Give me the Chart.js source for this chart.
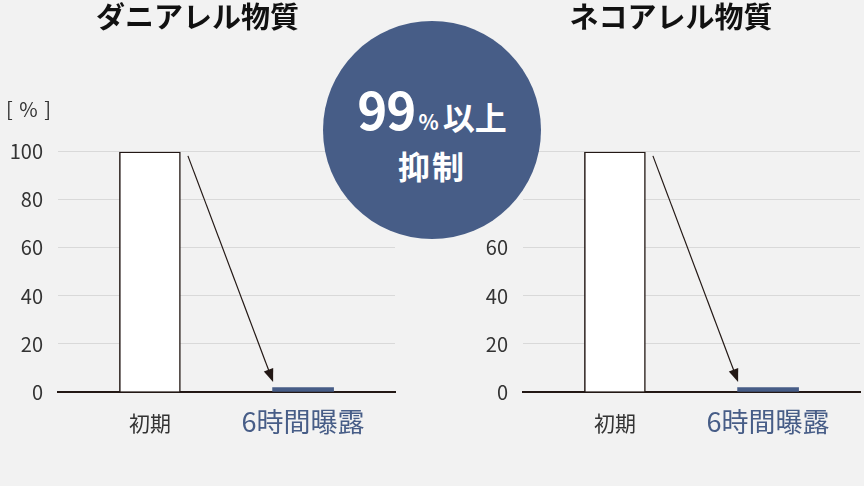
<!DOCTYPE html>
<html lang="ja">
<head>
<meta charset="utf-8">
<script src="https://cdn.jsdelivr.net/npm/chart.js@4.4.1/dist/chart.umd.min.js"></script>
<style>
  html, body { margin:0; padding:0; background:#f2f2f2; }
  body { width:864px; height:486px; position:relative; overflow:hidden; font-family:"Noto Sans CJK JP", "Noto Sans", sans-serif; }
  .box { position:absolute; top:0; height:486px; }
  #unit { position:absolute; left:6px; top:94px; font-size:20px; color:#333; word-spacing:2px; }
  #badge { position:absolute; left:323px; top:21px; width:218px; height:218px; border-radius:50%; background:#475d87; color:#fff; z-index:2; text-align:center; font-weight:bold; }
  #badge .l1 { position:absolute; left:0; right:0; top:62px; line-height:1; white-space:nowrap; }
  #badge .big { font-size:51px; letter-spacing:-1px; }
  #badge .pct { font-size:21px; margin:0 4px 0 3px; }
  #badge .mid { font-size:32px; }
  #badge .l2 { position:absolute; left:0; right:0; top:128px; font-size:32px; line-height:1; letter-spacing:2px; }
</style>
</head>
<body>
<div class="box" style="left:0;width:400px;"><canvas id="miteChart"></canvas></div>
<div class="box" style="left:482px;width:382px;"><canvas id="catChart"></canvas></div>
<div id="unit">[ % ]</div>
<div id="badge">
  <div class="l1"><span class="big">99</span><span class="pct">%</span><span class="mid">以上</span></div>
  <div class="l2">抑制</div>
</div>
<script>
// ----- data -----
const categories = ["初期", "6時間曝露"];
const miteValues = [100, 1.8];
const catValues = [100, 1.8];
const yTicks = [0, 20, 40, 60, 80, 100];

const NAVY = "#475d87";
const FONT = "'Noto Sans CJK JP', 'Noto Sans', sans-serif";

// arrow from top of first bar down to the second one
const arrowPlugin = {
  id: "dropArrow",
  afterDatasetsDraw(chart){
    const x = chart.scales.x, y = chart.scales.y;
    const x0 = x.getPixelForValue(0) + 38, y0 = y.getPixelForValue(98.3);
    const x1 = x.getPixelForValue(1) - 30, y1 = y.getPixelForValue(4.2);
    const ctx = chart.ctx;
    const ang = Math.atan2(y1 - y0, x1 - x0);
    const head = 13, half = 5;
    ctx.save();
    ctx.strokeStyle = "#231815";
    ctx.fillStyle = "#231815";
    ctx.lineWidth = 1.2;
    ctx.beginPath();
    ctx.moveTo(x0, y0);
    ctx.lineTo(x1 - Math.cos(ang)*head*0.8, y1 - Math.sin(ang)*head*0.8);
    ctx.stroke();
    ctx.beginPath();
    ctx.moveTo(x1, y1);
    ctx.lineTo(x1 - Math.cos(ang)*head - Math.sin(ang)*half, y1 - Math.sin(ang)*head + Math.cos(ang)*half);
    ctx.lineTo(x1 - Math.cos(ang)*head + Math.sin(ang)*half, y1 - Math.sin(ang)*head - Math.cos(ang)*half);
    ctx.closePath();
    ctx.fill();
    ctx.restore();
  }
};

function makeChart(id, title, values, axisWidth, padRight){
  return new Chart(document.getElementById(id), {
    type: "bar",
    data: {
      datasets: [{
        data: values.map((v, i) => ({ x: i, y: v })),
        backgroundColor: ["#ffffff", NAVY],
        borderColor: ["#231815", NAVY],
        borderWidth: [1.5, 0],
        barThickness: 61
      }]
    },
    options: {
      responsive: true,
      maintainAspectRatio: false,
      animation: false,
      layout: { padding: { left:0, right:padRight, top:0, bottom:0 } },
      plugins: {
        legend: { display:false },
        tooltip: { enabled:false },
        title: {
          display: true, text: title, color: "#111",
          font: { family: FONT, size: 29, weight: "bold" },
          padding: { top: 0, bottom: 117 }
        }
      },
      scales: {
        x: {
          type: "linear", min: -0.6, max: 1.6, offset: false,
          afterBuildTicks: s => { s.ticks = categories.map((c, i) => ({ value: i })); },
          afterFit: s => { s.height = 94; },
          grid: { display:false, drawTicks:false },
          border: { display:true, color:"#231815", width:2 },
          ticks: {
            autoSkip: false, maxRotation: 0, padding: 14,
            callback: v => categories[v],
            color: c => c.index === 1 ? NAVY : "#333",
            font: c => c.index === 1 ? { family: FONT, size: 27 } : { family: FONT, size: 21, lineHeight: 1.65 }
          }
        },
        y: {
          min: 0, max: 100,
          afterBuildTicks: s => { s.ticks = yTicks.map(v => ({ value: v })); },
          afterFit: s => { s.width = axisWidth; },
          grid: { color:"#d9d9d9", lineWidth:1, drawTicks:false },
          border: { display:false },
          ticks: { padding: 15, color:"#333", font: { family: FONT, size: 20 } }
        }
      }
    },
    plugins: [arrowPlugin]
  });
}

makeChart("miteChart", "ダニアレル物質", miteValues, 58, 5);
makeChart("catChart", "ネコアレル物質", catValues, 41, 4);
</script>
</body>
</html>
